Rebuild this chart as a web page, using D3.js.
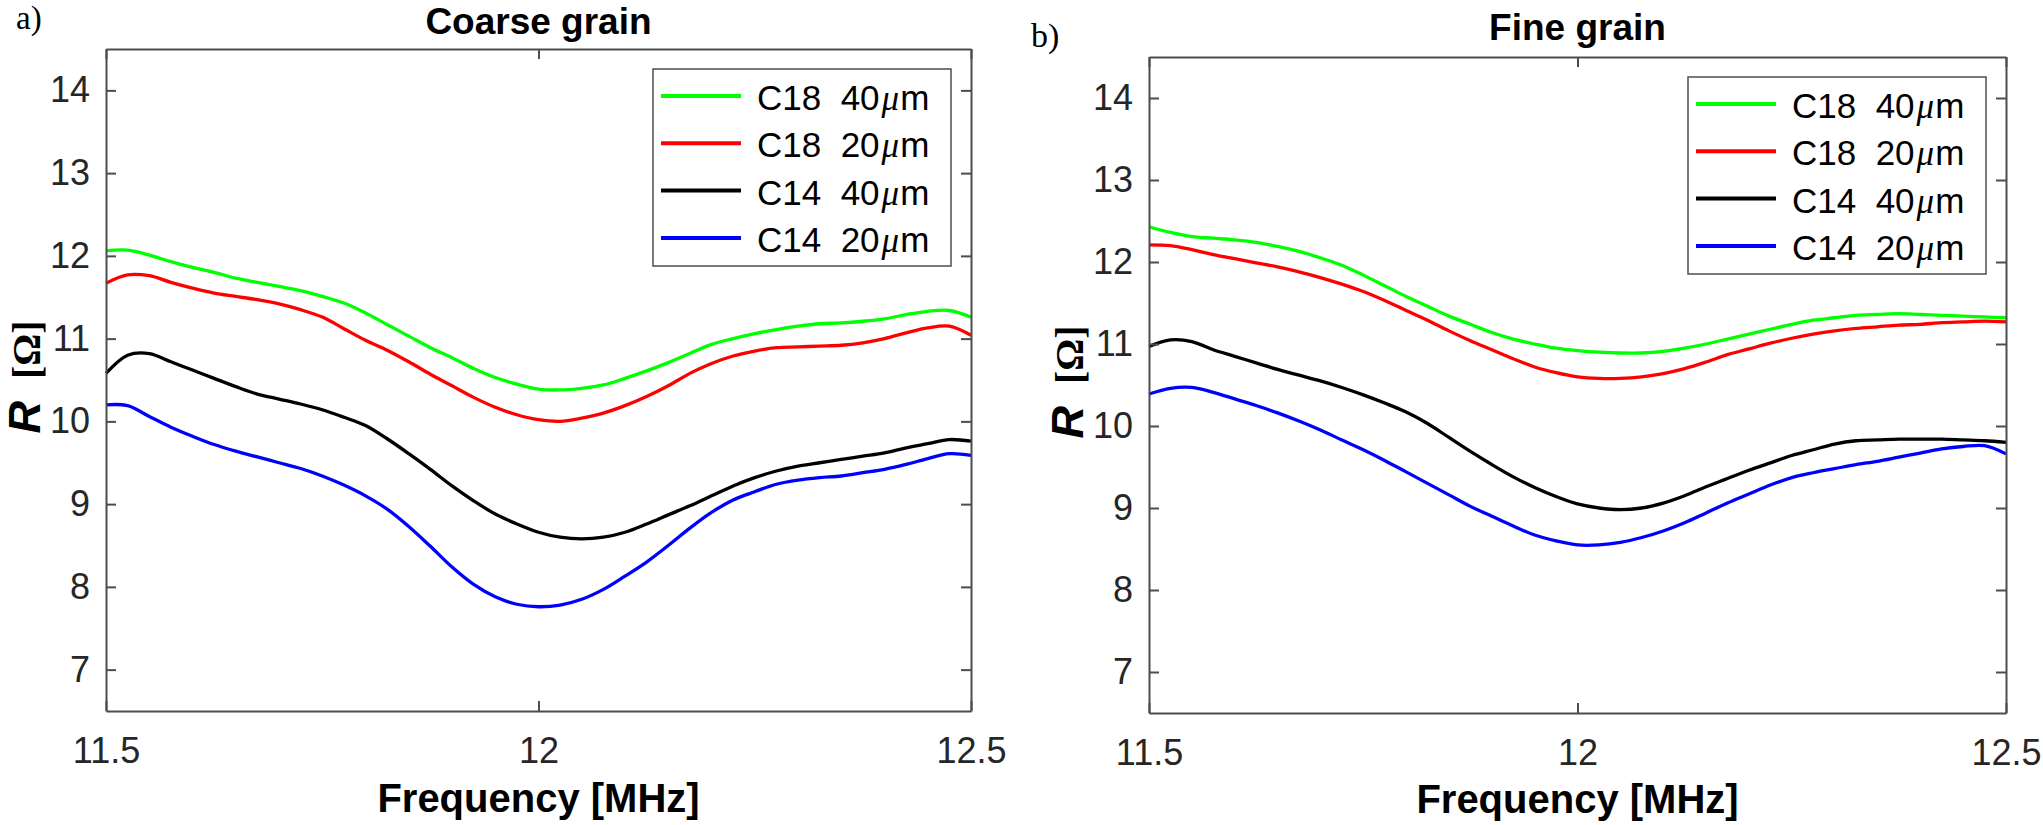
<!DOCTYPE html>
<html lang="en">
<head>
    <meta charset="UTF-8">
    <title>Coarse grain / Fine grain : R vs frequency</title>
    <script src="https://d3js.org/d3.v7.min.js"></script>
    <style>
        body { margin: 0; background: #fff; }
        svg { display: block; }
    </style>
</head>
<body>
    <div id="my_dataviz"></div>

    <script>
        // ---- data ----
        var freq = [11.5, 11.525, 11.55, 11.575, 11.6, 11.625, 11.65, 11.675, 11.7, 11.725,
                    11.75, 11.775, 11.8, 11.825, 11.85, 11.875, 11.9, 11.925, 11.95, 11.975,
                    12.0, 12.025, 12.05, 12.075, 12.1, 12.125, 12.15, 12.175, 12.2, 12.225,
                    12.25, 12.275, 12.3, 12.325, 12.35, 12.375, 12.4, 12.425, 12.45, 12.475, 12.5];

        var seriesNames = ["C18  40", "C18  20", "C14  40", "C14  20"];   // + "μm"
        var xTicks = [11.5, 12, 12.5];
        var yTicks = [7, 8, 9, 10, 11, 12, 13, 14];

        // Coarse grain
        var coarseC18_40 = [12.06, 12.07, 12.01, 11.93, 11.86, 11.80, 11.73, 11.68, 11.63, 11.58,
                            11.51, 11.43, 11.31, 11.17, 11.03, 10.89, 10.77, 10.64, 10.53, 10.45,
                            10.39, 10.38, 10.40, 10.44, 10.52, 10.61, 10.71, 10.82, 10.93, 11.00,
                            11.06, 11.11, 11.15, 11.18, 11.19, 11.21, 11.24, 11.29, 11.33, 11.34, 11.26];
        var coarseC18_20 = [11.67, 11.77, 11.76, 11.68, 11.61, 11.55, 11.51, 11.47, 11.42, 11.35,
                            11.26, 11.12, 10.98, 10.86, 10.72, 10.57, 10.43, 10.29, 10.17, 10.08,
                            10.02, 10.00, 10.04, 10.10, 10.19, 10.30, 10.43, 10.58, 10.70, 10.79,
                            10.85, 10.89, 10.90, 10.91, 10.92, 10.95, 11.00, 11.07, 11.13, 11.15, 11.04];
        var coarseC14_40 = [10.58, 10.80, 10.82, 10.72, 10.62, 10.52, 10.42, 10.33, 10.27, 10.21,
                            10.14, 10.05, 9.95, 9.79, 9.61, 9.42, 9.22, 9.04, 8.88, 8.76,
                            8.66, 8.60, 8.58, 8.60, 8.66, 8.76, 8.87, 8.98, 9.10, 9.22,
                            9.32, 9.40, 9.46, 9.50, 9.54, 9.58, 9.62, 9.68, 9.73, 9.78, 9.76];
        var coarseC14_20 = [10.20, 10.19, 10.06, 9.93, 9.82, 9.72, 9.64, 9.57, 9.50, 9.43,
                            9.34, 9.23, 9.10, 8.94, 8.73, 8.49, 8.24, 8.03, 7.88, 7.79,
                            7.76, 7.78, 7.85, 7.97, 8.13, 8.30, 8.50, 8.71, 8.90, 9.05,
                            9.15, 9.24, 9.29, 9.32, 9.34, 9.38, 9.42, 9.48, 9.55, 9.61, 9.59];

        // Fine grain
        var fineC18_40 = [12.43, 12.36, 12.31, 12.29, 12.27, 12.24, 12.19, 12.13, 12.05, 11.96,
                          11.84, 11.71, 11.58, 11.46, 11.34, 11.24, 11.14, 11.06, 11.00, 10.95,
                          10.92, 10.90, 10.89, 10.89, 10.91, 10.95, 11.00, 11.06, 11.12, 11.18,
                          11.24, 11.29, 11.32, 11.35, 11.36, 11.37, 11.36, 11.35, 11.34, 11.33, 11.32];
        var fineC18_20 = [12.21, 12.20, 12.15, 12.09, 12.04, 11.99, 11.94, 11.88, 11.81, 11.73,
                          11.64, 11.53, 11.41, 11.29, 11.16, 11.04, 10.93, 10.82, 10.72, 10.65,
                          10.60, 10.58, 10.58, 10.60, 10.64, 10.70, 10.78, 10.87, 10.94, 11.01,
                          11.07, 11.12, 11.16, 11.19, 11.21, 11.23, 11.24, 11.26, 11.27, 11.28, 11.27];
        var fineC14_40 = [10.97, 11.05, 11.03, 10.93, 10.85, 10.77, 10.69, 10.62, 10.55, 10.47,
                          10.38, 10.28, 10.17, 10.03, 9.86, 9.69, 9.53, 9.38, 9.25, 9.14,
                          9.05, 9.00, 8.98, 9.00, 9.06, 9.15, 9.26, 9.36, 9.46, 9.55,
                          9.64, 9.71, 9.78, 9.82, 9.83, 9.84, 9.84, 9.84, 9.83, 9.82, 9.80];
        var fineC14_20 = [10.39, 10.46, 10.47, 10.41, 10.33, 10.25, 10.16, 10.06, 9.95, 9.83,
                          9.71, 9.58, 9.44, 9.30, 9.16, 9.02, 8.90, 8.78, 8.67, 8.60,
                          8.55, 8.55, 8.58, 8.64, 8.72, 8.82, 8.94, 9.06, 9.17, 9.28,
                          9.37, 9.43, 9.48, 9.53, 9.57, 9.62, 9.67, 9.72, 9.75, 9.76, 9.66];

        var lineColors = ["#00ff00", "#ff0000", "#000000", "#0000ff"];

        // ---- layout ----
        var panels = [
            {tag: "a)", tagX: 16, tagY: 29, tagSize: 33, title: "Coarse grain", titleY: 34,
             left: 106, right: 971, top: 49, bottom: 711, xLabY: 812,
             series: [coarseC18_40, coarseC18_20, coarseC14_40, coarseC14_20]},
            {tag: "b)", tagX: 1031, tagY: 47, tagSize: 34, title: "Fine grain", titleY: 40,
             left: 1149, right: 2006, top: 57, bottom: 713, xLabY: 813,
             series: [fineC18_40, fineC18_20, fineC14_40, fineC14_20]}
        ];

        var sans = "'Liberation Sans', Arial, Helvetica, sans-serif";
        var serif = "'Liberation Serif', 'Times New Roman', serif";
        var axisColor = "#4d4d4d";

        var svg = d3.select("#my_dataviz")
            .append("svg")
            .attr("width", 2043)
            .attr("height", 825);

        panels.forEach(function(p) {
            var x = d3.scaleLinear().domain([11.5, 12.5]).range([p.left, p.right]);
            var y = d3.scaleLinear().domain([6.5, 14.5]).range([p.bottom, p.top]);
            var g = svg.append("g");

            // curves
            var line = d3.line()
                .x(function(d) { return x(d[0]); })
                .y(function(d) { return y(d[1]); })
                .curve(d3.curveCatmullRom);

            p.series.forEach(function(vals, i) {
                g.append("path")
                    .datum(freq.map(function(f, k) { return [f, vals[k]]; }))
                    .attr("fill", "none")
                    .attr("stroke", lineColors[i])
                    .attr("stroke-width", 3.3)
                    .attr("stroke-linejoin", "round")
                    .attr("d", line);
            });

            // axes (box with inward ticks)
            var fmt = function(d) { return d3.format("")(d); };
            var axB = g.append("g")
                .attr("transform", "translate(0," + p.bottom + ")")
                .call(d3.axisBottom(x).tickValues(xTicks).tickFormat(fmt)
                    .tickSizeInner(-10).tickSizeOuter(0).tickPadding(26));
            var axT = g.append("g")
                .attr("transform", "translate(0," + p.top + ")")
                .call(d3.axisTop(x).tickValues(xTicks).tickFormat("")
                    .tickSizeInner(-10).tickSizeOuter(0));
            var axL = g.append("g")
                .attr("transform", "translate(" + p.left + ",0)")
                .call(d3.axisLeft(y).tickValues(yTicks).tickFormat(fmt)
                    .tickSizeInner(-10).tickSizeOuter(0).tickPadding(16));
            var axR = g.append("g")
                .attr("transform", "translate(" + p.right + ",0)")
                .call(d3.axisRight(y).tickValues(yTicks).tickFormat("")
                    .tickSizeInner(-10).tickSizeOuter(0));

            [axB, axT, axL, axR].forEach(function(a) {
                a.select(".domain").attr("stroke", axisColor).attr("stroke-width", 2);
                a.selectAll(".tick line").attr("stroke", axisColor).attr("stroke-width", 2);
                a.selectAll(".tick text")
                    .attr("fill", "#262626")
                    .style("font-family", sans)
                    .style("font-size", "36px");
            });

            // legend
            var lgW = 298, lgH = 197;
            var lgX = p.right - 20 - lgW, lgY = p.top + 20;
            var lg = g.append("g").attr("transform", "translate(" + lgX + "," + lgY + ")");
            lg.append("rect")
                .attr("width", lgW).attr("height", lgH)
                .attr("fill", "#fff")
                .attr("stroke", axisColor).attr("stroke-width", 1.5);
            seriesNames.forEach(function(name, i) {
                var ry = 27 + i * 47.3;
                lg.append("line")
                    .attr("x1", 8).attr("x2", 88)
                    .attr("y1", ry).attr("y2", ry)
                    .attr("stroke", lineColors[i]).attr("stroke-width", 4);
                var t = lg.append("text")
                    .attr("x", 104).attr("y", ry + 14)
                    .attr("fill", "#000")
                    .style("font-family", sans)
                    .style("font-size", "35px")
                    .style("white-space", "pre");
                t.append("tspan").text(name);
                t.append("tspan").style("font-family", serif).style("font-style", "italic")
                    .attr("dx", 2).text("\u03bc");
                t.append("tspan").attr("dx", 1).text("m");
            });

            // title, panel tag, axis labels
            g.append("text")
                .attr("x", (p.left + p.right) / 2).attr("y", p.titleY)
                .attr("text-anchor", "middle")
                .style("font-family", sans).style("font-weight", 700).style("font-size", "37px")
                .text(p.title);

            g.append("text")
                .attr("x", p.tagX).attr("y", p.tagY)
                .style("font-family", serif).style("font-size", p.tagSize + "px")
                .text(p.tag);

            g.append("text")
                .attr("x", (p.left + p.right) / 2).attr("y", p.xLabY)
                .attr("text-anchor", "middle")
                .style("font-family", sans).style("font-weight", 700).style("font-size", "40px")
                .text("Frequency [MHz]");

            var cy = (p.top + p.bottom) / 2 - 3;
            var yl = g.append("text")
                .attr("transform", "translate(" + (p.left - 66) + "," + cy + ") rotate(-90)")
                .attr("text-anchor", "middle");
            yl.append("tspan")
                .style("font-family", sans).style("font-weight", 700).style("font-style", "italic")
                .style("font-size", "45px")
                .text("R");
            yl.append("tspan")
                .attr("dx", 22)
                .style("font-family", serif).style("font-weight", 700).style("font-size", "40px")
                .text("[\u03a9]");
        });
    </script>
</body>
</html>
